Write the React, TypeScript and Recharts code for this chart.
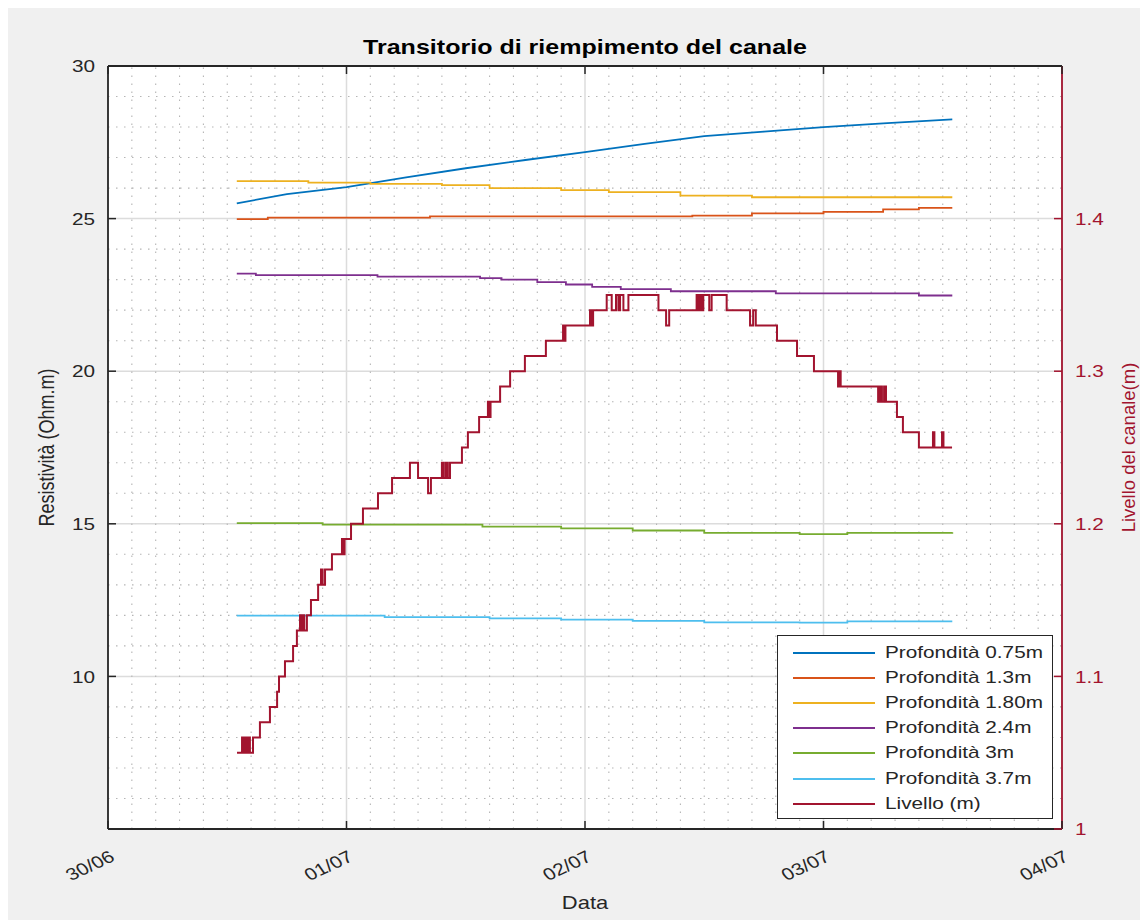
import React from 'react';
import { LineChart, Line, XAxis, YAxis, CartesianGrid, ReferenceLine, Legend } from 'recharts';

const FONT = '"Liberation Sans", Arial, Helvetica, sans-serif';
const INK = '#262626';
const LEVEL_RED = '#A2142F';
const STRETCH = 1.22;

const TITLE = 'Transitorio di riempimento del canale';

// x values are days elapsed since 30/06 00:00
const dayTicks = [0, 1, 2, 3, 4];
const dayLabels = ['30/06', '01/07', '02/07', '03/07', '04/07'];
const resTicks = [10, 15, 20, 25, 30];
const levelTicks = [1, 1.1, 1.2, 1.3, 1.4];

const seriesNames = [
  'Profondità 0.75m',
  'Profondità 1.3m',
  'Profondità 1.80m',
  'Profondità 2.4m',
  'Profondità 3m',
  'Profondità 3.7m',
  'Livello (m)',
];
const seriesColors = ['#0072BD', '#D95319', '#EDB120', '#7E2F8E', '#77AC30', '#4DBEEE', LEVEL_RED];

// Resistivity (Ohm.m) per depth: [day, value]
const depth075: [number, number][] = [
  [0.54, 25.5], [0.75, 25.8], [1.0, 26.03], [1.25, 26.35], [1.5, 26.65], [1.75, 26.92],
  [2.0, 27.18], [2.25, 27.45], [2.5, 27.7], [2.75, 27.85], [3.0, 28.0], [3.25, 28.12], [3.54, 28.25],
];
const depth13: [number, number][] = [
  [0.54, 24.98], [0.67, 25.03], [1.35, 25.07], [2.45, 25.1], [2.7, 25.17], [3.0, 25.22],
  [3.25, 25.3], [3.4, 25.35], [3.54, 25.35],
];
const depth180: [number, number][] = [
  [0.54, 26.23], [0.84, 26.18], [1.1, 26.14], [1.4, 26.1], [1.6, 26.0], [1.9, 25.93],
  [2.1, 25.87], [2.4, 25.75], [2.7, 25.7], [3.54, 25.7],
];
const depth24: [number, number][] = [
  [0.54, 23.2], [0.62, 23.15], [1.13, 23.1], [1.56, 23.05], [1.65, 23.0], [1.8, 22.92],
  [1.92, 22.84], [2.03, 22.76], [2.15, 22.69], [2.36, 22.62], [2.8, 22.55], [3.4, 22.48], [3.54, 22.48],
];
const depth3: [number, number][] = [
  [0.54, 15.02], [0.9, 14.97], [1.57, 14.91], [1.9, 14.85], [2.2, 14.78], [2.5, 14.7],
  [2.9, 14.66], [3.1, 14.7], [3.54, 14.72],
];
const depth37: [number, number][] = [
  [0.54, 11.99], [1.16, 11.94], [1.6, 11.9], [1.9, 11.86], [2.2, 11.82], [2.5, 11.77],
  [2.9, 11.76], [3.1, 11.8], [3.54, 11.8],
];

// Channel water level (m): [day, value], held until the next reading
const level: [number, number][] = [
  [0.541, 1.05], [0.562, 1.06], [0.57, 1.05], [0.576, 1.06], [0.583, 1.05], [0.59, 1.06],
  [0.595, 1.05], [0.608, 1.06], [0.637, 1.07], [0.679, 1.08], [0.709, 1.09], [0.717, 1.1],
  [0.742, 1.11], [0.776, 1.12], [0.792, 1.13], [0.805, 1.14], [0.811, 1.13], [0.817, 1.14],
  [0.823, 1.13], [0.834, 1.14], [0.851, 1.15], [0.881, 1.16], [0.893, 1.17], [0.9, 1.16],
  [0.91, 1.17], [0.939, 1.18], [0.981, 1.19], [0.986, 1.18], [0.992, 1.19], [1.019, 1.2],
  [1.069, 1.21], [1.132, 1.22], [1.191, 1.23], [1.266, 1.24], [1.3, 1.23], [1.342, 1.22],
  [1.354, 1.23], [1.4, 1.24], [1.408, 1.23], [1.417, 1.24], [1.425, 1.23], [1.434, 1.24],
  [1.484, 1.25], [1.509, 1.26], [1.556, 1.27], [1.593, 1.28], [1.598, 1.27], [1.604, 1.28],
  [1.644, 1.29], [1.686, 1.3], [1.748, 1.31], [1.836, 1.32], [1.908, 1.33], [1.912, 1.32],
  [1.918, 1.33], [2.021, 1.34], [2.027, 1.33], [2.034, 1.34], [2.091, 1.35], [2.112, 1.34],
  [2.13, 1.35], [2.14, 1.34], [2.147, 1.35], [2.161, 1.34], [2.182, 1.35], [2.308, 1.34],
  [2.34, 1.33], [2.353, 1.34], [2.468, 1.35], [2.475, 1.34], [2.482, 1.35], [2.49, 1.34],
  [2.496, 1.35], [2.521, 1.34], [2.531, 1.35], [2.594, 1.34], [2.692, 1.33], [2.705, 1.34],
  [2.716, 1.33], [2.805, 1.32], [2.889, 1.31], [2.96, 1.3], [3.061, 1.29], [3.066, 1.3],
  [3.072, 1.29], [3.229, 1.28], [3.237, 1.29], [3.245, 1.28], [3.254, 1.29], [3.262, 1.28],
  [3.308, 1.27], [3.333, 1.26], [3.4, 1.25], [3.459, 1.26], [3.465, 1.25], [3.497, 1.26],
  [3.503, 1.25], [3.539, 1.25],
];

const toRows = (pts: [number, number][]) => pts.map(([t, v]) => ({ t, v }));

const resistivitySeries = [depth075, depth13, depth180, depth24, depth3, depth37].map(toRows);
const resistivityCurve = ['linear', 'stepAfter', 'stepAfter', 'stepAfter', 'stepAfter', 'stepAfter'] as const;
const levelRows = toRows(level);

// minor grid: every 0.1 day and every 1 Ohm.m
const minorDays: number[] = [];
for (let k = 1; k < 40; k++) if (k % 10 !== 0) minorDays.push(k / 10);
const minorRes: number[] = [];
for (let r = 6; r < 30; r++) if (r % 5 !== 0) minorRes.push(r);

const BottomTick = (props: any) => {
  const { x, y, payload } = props;
  const label = dayLabels[dayTicks.indexOf(payload.value)];
  return (
    <g>
      <line x1={x} x2={x} y1={y} y2={y - 8} stroke={INK} strokeWidth={1.5} />
      <text
        transform={`translate(${x + 8},${y + 31}) scale(${STRETCH},1) rotate(-30)`}
        textAnchor="end"
        fontSize={17}
        fill={INK}
        fontFamily={FONT}
      >
        {label}
      </text>
    </g>
  );
};

const TopTick = (props: any) => {
  const { x, y } = props;
  return <line x1={x} x2={x} y1={y} y2={y + 8} stroke={INK} strokeWidth={1.5} />;
};

const LeftTick = (props: any) => {
  const { x, y, payload } = props;
  return (
    <g>
      <line x1={x} x2={x + 8} y1={y} y2={y} stroke={INK} strokeWidth={1.5} />
      <text
        transform={`translate(${x - 13},${y}) scale(${STRETCH},1)`}
        textAnchor="end"
        dy="0.36em"
        fontSize={17}
        fill={INK}
        fontFamily={FONT}
      >
        {payload.value}
      </text>
    </g>
  );
};

const RightTick = (props: any) => {
  const { x, y, payload } = props;
  return (
    <g>
      <line x1={x} x2={x - 8} y1={y} y2={y} stroke={LEVEL_RED} strokeWidth={1.5} />
      <text
        transform={`translate(${x + 13},${y}) scale(${STRETCH},1)`}
        textAnchor="start"
        dy="0.36em"
        fontSize={17}
        fill={LEVEL_RED}
        fontFamily={FONT}
      >
        {payload.value}
      </text>
    </g>
  );
};

const TitleLabel = (p: any) => {
  const vb = p.viewBox;
  return (
    <text
      transform={`translate(${vb.x + vb.width / 2},${vb.y + 48}) scale(1.24,1)`}
      textAnchor="middle"
      fontSize={20.2}
      fontWeight="bold"
      fill="#000"
      fontFamily={FONT}
    >
      {TITLE}
    </text>
  );
};

const XLabel = (p: any) => {
  const vb = p.viewBox;
  return (
    <text
      transform={`translate(${vb.x + vb.width / 2},${vb.y + 80}) scale(${STRETCH},1)`}
      textAnchor="middle"
      fontSize={18}
      fill={INK}
      fontFamily={FONT}
    >
      Data
    </text>
  );
};

const LeftLabel = (p: any) => {
  const vb = p.viewBox;
  return (
    <text
      transform={`translate(${vb.x + 38},${vb.y + vb.height / 2}) scale(${STRETCH},1) rotate(-90)`}
      textAnchor="middle"
      dy="0.36em"
      fontSize={18}
      fill={INK}
      fontFamily={FONT}
    >
      Resistività (Ohm.m)
    </text>
  );
};

const RightLabel = (p: any) => {
  const vb = p.viewBox;
  return (
    <text
      transform={`translate(${vb.x + 66},${vb.y + vb.height / 2}) rotate(-90)`}
      textAnchor="middle"
      dy="0.36em"
      fontSize={18.5}
      fill={LEVEL_RED}
      fontFamily={FONT}
    >
      Livello del canale(m)
    </text>
  );
};

const LegendBox = (props: any) => {
  const payload = [...(props.payload || [])].sort(
    (a: any, b: any) => seriesNames.indexOf(a.value) - seriesNames.indexOf(b.value)
  );
  return (
    <div
      style={{
        width: 276,
        height: 184,
        boxSizing: 'border-box',
        border: `1.5px solid ${INK}`,
        background: '#fff',
        paddingTop: 4,
        fontFamily: FONT,
      }}
    >
      {payload.map((e: any) => (
        <div key={e.value} style={{ display: 'flex', alignItems: 'center', height: 25.2 }}>
          <div style={{ marginLeft: 15, width: 82, height: 0, borderTop: `2px solid ${e.color}` }} />
          <span
            style={{
              marginLeft: 10,
              fontSize: 17,
              lineHeight: '20px',
              color: INK,
              whiteSpace: 'nowrap',
              display: 'inline-block',
              transform: `scaleX(${STRETCH})`,
              transformOrigin: 'left center',
            }}
          >
            {e.value}
          </span>
        </div>
      ))}
    </div>
  );
};

export default function App() {
  return (
    <div style={{ width: 1140, height: 914, marginTop: -2, background: '#f0f0f0', position: 'relative' }}>
      <LineChart
        width={1140}
        height={914}
        margin={{ top: 0, right: 0, bottom: 0, left: 0 }}
        style={{ fontFamily: FONT }}
      >
        <CartesianGrid
          xAxisId="bottom"
          yAxisId="left"
          fill="#ffffff"
          stroke="#dcdcdc"
          strokeWidth={1.5}
        />
        {minorDays.map((t) => (
          <ReferenceLine
            key={`vx${t}`}
            xAxisId="bottom"
            yAxisId="left"
            x={t}
            stroke="#b5b5b5"
            strokeWidth={1.1}
            strokeDasharray="1.5 6.5"
          />
        ))}
        {minorRes.map((r) => (
          <ReferenceLine
            key={`hy${r}`}
            xAxisId="bottom"
            yAxisId="left"
            y={r}
            stroke="#b5b5b5"
            strokeWidth={1.1}
            strokeDasharray="1.5 6.5"
          />
        ))}
        <XAxis
          xAxisId="bottom"
          dataKey="t"
          type="number"
          domain={[0, 4]}
          allowDataOverflow
          ticks={dayTicks}
          interval={0}
          height={91}
          tickSize={0}
          tickMargin={0}
          tickLine={false}
          tick={<BottomTick />}
          axisLine={{ stroke: INK, strokeWidth: 1.8 }}
          label={{ value: 'Data', content: XLabel }}
        />
        <XAxis
          xAxisId="top"
          orientation="top"
          dataKey="t"
          type="number"
          domain={[0, 4]}
          allowDataOverflow
          ticks={dayTicks}
          interval={0}
          height={60}
          tickSize={0}
          tickMargin={0}
          tickLine={false}
          tick={<TopTick />}
          axisLine={{ stroke: INK, strokeWidth: 1.8 }}
          label={{ value: TITLE, content: TitleLabel }}
        />
        <YAxis
          yAxisId="left"
          type="number"
          domain={[5, 30]}
          allowDataOverflow
          ticks={resTicks}
          interval={0}
          width={100}
          tickSize={0}
          tickMargin={0}
          tickLine={false}
          tick={<LeftTick />}
          axisLine={{ stroke: INK, strokeWidth: 1.8 }}
          label={{ value: 'Resistività (Ohm.m)', content: LeftLabel }}
        />
        <YAxis
          yAxisId="right"
          orientation="right"
          type="number"
          domain={[1, 1.5]}
          allowDataOverflow
          ticks={levelTicks}
          interval={0}
          width={86}
          tickSize={0}
          tickMargin={0}
          tickLine={false}
          tick={<RightTick />}
          axisLine={{ stroke: LEVEL_RED, strokeWidth: 1.8 }}
          label={{ value: 'Livello del canale(m)', content: RightLabel }}
        />
        {resistivitySeries.map((rows, i) => (
          <Line
            key={seriesNames[i]}
            name={seriesNames[i]}
            data={rows}
            dataKey="v"
            xAxisId="bottom"
            yAxisId="left"
            type={resistivityCurve[i]}
            stroke={seriesColors[i]}
            strokeWidth={1.8}
            dot={false}
            activeDot={false}
            isAnimationActive={false}
          />
        ))}
        <Line
          name={seriesNames[6]}
          data={levelRows}
          dataKey="v"
          xAxisId="bottom"
          yAxisId="right"
          type="stepAfter"
          stroke={LEVEL_RED}
          strokeWidth={2}
          dot={false}
          activeDot={false}
          isAnimationActive={false}
        />
        <Legend
          layout="vertical"
          align="center"
          verticalAlign="middle"
          content={<LegendBox />}
          wrapperStyle={{ left: 769, top: 629, width: 276, height: 184 }}
        />
      </LineChart>
    </div>
  );
}
